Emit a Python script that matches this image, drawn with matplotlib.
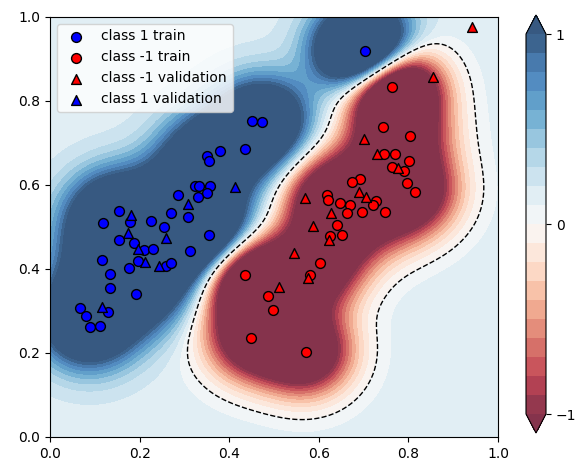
import numpy as np
import matplotlib
matplotlib.use("Agg")
import matplotlib.pyplot as plt
from matplotlib.colors import ListedColormap

# class 1 (blue) training points
pos_train_x = [0.474, 0.451, 0.380, 0.436, 0.350, 0.356, 0.324, 0.333, 0.358, 0.350,
               0.330, 0.285, 0.269, 0.307, 0.153, 0.118, 0.179, 0.225, 0.254, 0.153,
               0.187, 0.356, 0.210, 0.230, 0.313, 0.196, 0.260, 0.271, 0.115, 0.176,
               0.133, 0.135, 0.191, 0.066, 0.129, 0.081, 0.089, 0.112, 0.703]
pos_train_y = [0.751, 0.753, 0.682, 0.686, 0.669, 0.657, 0.598, 0.598, 0.598, 0.582,
               0.571, 0.576, 0.533, 0.523, 0.539, 0.510, 0.511, 0.515, 0.499, 0.470,
               0.463, 0.480, 0.445, 0.448, 0.442, 0.420, 0.408, 0.415, 0.421, 0.402,
               0.389, 0.355, 0.340, 0.307, 0.297, 0.288, 0.261, 0.264, 0.919]

# class -1 (red) training points
neg_train_x = [0.763, 0.743, 0.803, 0.746, 0.771, 0.801, 0.763, 0.791, 0.797, 0.815,
               0.693, 0.673, 0.728, 0.720, 0.748, 0.618, 0.620, 0.647, 0.670, 0.662,
               0.696, 0.640, 0.652, 0.624, 0.602, 0.580, 0.435, 0.487, 0.498, 0.448,
               0.571]
neg_train_y = [0.833, 0.738, 0.717, 0.674, 0.674, 0.658, 0.642, 0.634, 0.604, 0.583,
               0.615, 0.606, 0.561, 0.552, 0.536, 0.576, 0.564, 0.557, 0.552, 0.533,
               0.536, 0.505, 0.480, 0.478, 0.414, 0.386, 0.386, 0.336, 0.302, 0.235,
               0.202]

# validation points
neg_val_x = [0.856, 0.702, 0.730, 0.777, 0.690, 0.705, 0.569, 0.627, 0.587, 0.622,
             0.544, 0.575, 0.512, 0.942]
neg_val_y = [0.856, 0.710, 0.675, 0.640, 0.584, 0.571, 0.568, 0.534, 0.503, 0.470,
             0.438, 0.378, 0.356, 0.977]
pos_val_x = [0.413, 0.307, 0.181, 0.260, 0.173, 0.196, 0.212, 0.244, 0.115]
pos_val_y = [0.595, 0.555, 0.529, 0.474, 0.486, 0.448, 0.417, 0.407, 0.309]

gamma = 100.0
C = 1000.0
scale = 2.2
offset = 0.15


def rbf(a, b):
    d = ((a[:, None, :] - b[None, :, :]) ** 2).sum(-1)
    return np.exp(-gamma * d)


def smo(K, y, C, eps=1e-4, max_iter=200000):
    """Простой SMO для SVM (выбор максимально нарушающей пары)"""
    Q = K * np.outer(y, y)
    alpha = np.zeros(len(y))
    G = -np.ones(len(y))
    for it in range(max_iter):
        up = ((y > 0) & (alpha < C)) | ((y < 0) & (alpha > 0))
        low = ((y < 0) & (alpha < C)) | ((y > 0) & (alpha > 0))
        v = -y * G
        i = np.where(up)[0][np.argmax(v[up])]
        j = np.where(low)[0][np.argmin(v[low])]
        if v[i] - v[j] < eps:
            break
        t = (v[i] - v[j]) / max(K[i, i] + K[j, j] - 2 * K[i, j], 1e-12)
        t = min(t, C - alpha[i]) if y[i] > 0 else min(t, alpha[i])
        t = min(t, alpha[j]) if y[j] > 0 else min(t, C - alpha[j])
        alpha[i] += y[i] * t
        alpha[j] -= y[j] * t
        G += Q[:, i] * (y[i] * t) - Q[:, j] * (y[j] * t)
    return alpha


X = np.column_stack([pos_train_x + neg_train_x, pos_train_y + neg_train_y])
y = np.array([1.0] * len(pos_train_x) + [-1.0] * len(neg_train_x))
alpha = smo(rbf(X, X), y, C)

xx, yy = np.meshgrid(np.linspace(0, 1, 300), np.linspace(0, 1, 300))
grid = np.column_stack([xx.ravel(), yy.ravel()])
Z = (scale * (rbf(grid, X) @ (alpha * y)) + offset).reshape(xx.shape)

# RdBu seen through alpha 0.8 on white
base = plt.get_cmap("RdBu")(np.linspace(0, 1, 256))[:, :3]
cmap = ListedColormap(0.8 * base + 0.2)

fig = plt.figure(figsize=(5.76, 4.63), dpi=100)
ax = fig.add_axes([50 / 576, 1 - 437 / 463, 448 / 576, 420 / 463])
cs = ax.contourf(xx, yy, Z, levels=np.linspace(-1, 1, 21), cmap=cmap, extend="both")
ax.contour(xx, yy, Z, levels=[0], colors="k", linestyles="dashed", linewidths=1)

ax.scatter(pos_train_x, pos_train_y, c="b", marker="o", s=50, edgecolors="k",
           label="class 1 train")
ax.scatter(neg_train_x, neg_train_y, c="r", marker="o", s=50, edgecolors="k",
           label="class -1 train")
ax.scatter(neg_val_x, neg_val_y, c="r", marker="^", s=50, edgecolors="k",
           label="class -1 validation")
ax.scatter(pos_val_x, pos_val_y, c="b", marker="^", s=50, edgecolors="k",
           label="class 1 validation")
ax.set_xlim(0, 1)
ax.set_ylim(0, 1)
ax.legend(loc="upper left")

cax = fig.add_axes([526 / 576, 1 - 433 / 463, 20 / 576, 418 / 463])
cb = fig.colorbar(cs, cax=cax, ticks=[-1, 0, 1])

fig.savefig("out.png", dpi=100)
